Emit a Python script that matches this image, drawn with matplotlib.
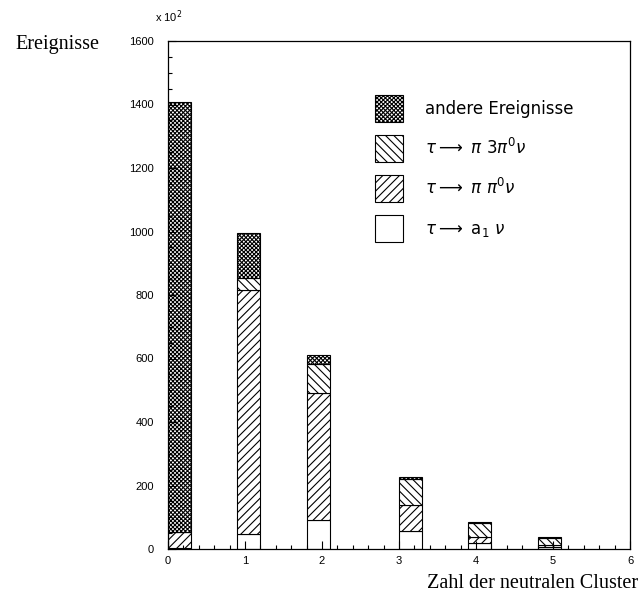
import numpy as np
import matplotlib
matplotlib.use("Agg")
import matplotlib.pyplot as plt
from matplotlib.patches import Patch
from matplotlib.ticker import MultipleLocator

# Zahl der neutralen Cluster (linke Kante der Bins) und Ereignisse in Einheiten von 10^2
left = [0.0, 0.9, 1.8, 3.0, 3.9, 4.8]
a1_nu = [3, 47, 91, 57, 18, 5]
pi_pi0_nu = [50, 769, 400, 82, 20, 8]
pi_3pi0_nu = [2, 37, 92, 81, 44, 22]
andere = [1353, 142, 28, 7, 3, 3]

labels = [r"$\tau \longrightarrow\ \mathrm{a}_1\ \nu$",
          r"$\tau \longrightarrow\ \pi\ \pi^0\nu$",
          r"$\tau \longrightarrow\ \pi\ 3\pi^0\nu$",
          "andere Ereignisse"]
hatches = ["", "////", "\\\\\\\\", "xxxxxxxx"]

plt.rcParams['hatch.linewidth'] = 0.8
plt.rcParams['mathtext.fontset'] = 'dejavusans'
fig = plt.figure(figsize=(6.42, 6.02), dpi=100)
ax = fig.add_axes([168/642, 1-549/602, 462/642, 508/602])

bottom = np.zeros(len(left))
for vals, h in zip([a1_nu, pi_pi0_nu, pi_3pi0_nu, andere], hatches):
    ax.bar(left, vals, width=0.3, bottom=bottom, align="edge",
           color="white", edgecolor="black", linewidth=0.8, hatch=h)
    bottom += np.array(vals)

ax.set_xlim(0, 6)
ax.set_ylim(0, 1600)
ax.xaxis.set_major_locator(MultipleLocator(1))
ax.xaxis.set_minor_locator(MultipleLocator(0.2))
ax.yaxis.set_major_locator(MultipleLocator(200))
ax.yaxis.set_minor_locator(MultipleLocator(50))
ax.tick_params(which="both", direction="in", top=False, right=False, width=0.8)
ax.tick_params(which="major", length=6)
ax.tick_params(which="minor", length=3)
ax.tick_params(axis="y", which="major", pad=10, labelsize=8)
ax.tick_params(axis="x", which="major", pad=5, labelsize=8)
for t in ax.get_xticklabels() + ax.get_yticklabels():
    t.set_family("Liberation Sans")
for s in ax.spines.values():
    s.set_linewidth(0.9)

handles = [Patch(facecolor="white", edgecolor="black", hatch=h, linewidth=0.8)
           for h in hatches]
leg = ax.legend(handles[::-1], labels[::-1], loc="upper left",
                bbox_to_anchor=(375/642, 1-95/602), bbox_transform=fig.transFigure,
                frameon=False, fontsize=12, handlelength=1.68, handleheight=2.11,
                labelspacing=0.78, handletextpad=1.3, borderpad=0, borderaxespad=0)

fig.text(15/642, 1-45/602, "Ereignisse", family="Liberation Serif", fontsize=14.5,
         ha="left", va="center")
fig.text(155/642, 1-17/602, r"x 10$^2$", family="Liberation Sans", fontsize=8,
         ha="left", va="center")
fig.text(638/642, 1-583/602, "Zahl der neutralen Cluster", family="Liberation Serif",
         fontsize=14.5, ha="right", va="center")

fig.savefig("out.png", dpi=100)
